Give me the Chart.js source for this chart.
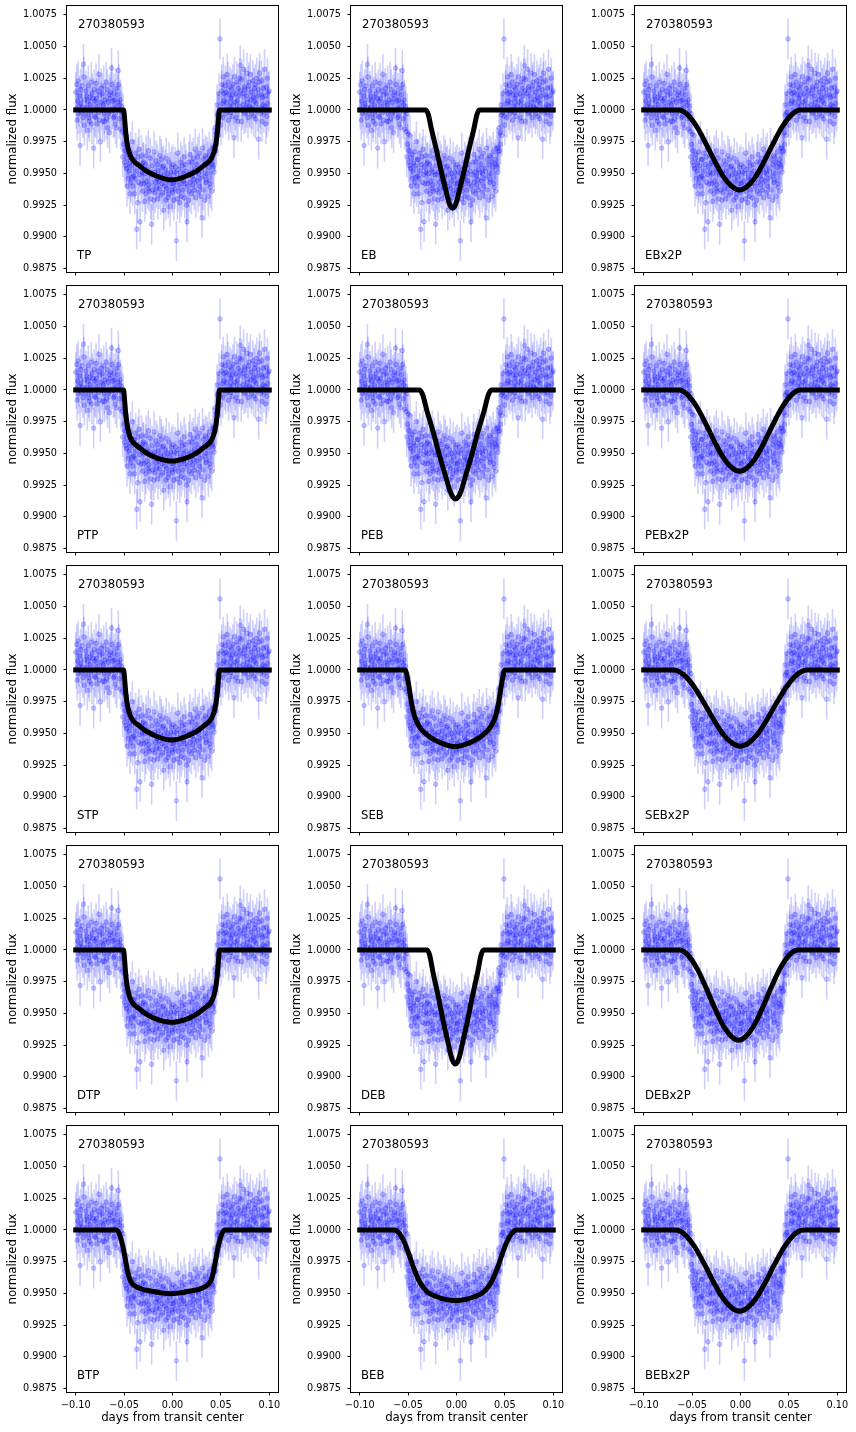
<!DOCTYPE html>
<html lang="en">
<head>
<meta charset="UTF-8">
<title>270380593 transit models</title>
<script src="https://cdn.jsdelivr.net/npm/chart.js"></script>
<style>
  body { margin: 0; background: #fff; }
  #fig { position: relative; width: 856px; height: 1432px; }
  #fig canvas { position: absolute; }
</style>
</head>
<body>
<div id="fig"></div>
<script>
const starId = '270380593';

// folded light curve (days from transit center, normalized flux)
const times = [
  -0.1,-0.0995,-0.099,-0.0985,-0.098,-0.0975,-0.097,-0.0965,-0.096,-0.0955,-0.095,-0.0945,-0.094,-0.0935,-0.093,-0.0925,-0.092,-0.0915,-0.091,-0.0905,
  -0.09,-0.0895,-0.089,-0.0885,-0.088,-0.0875,-0.087,-0.0865,-0.086,-0.0855,-0.085,-0.0845,-0.084,-0.0835,-0.083,-0.0825,-0.082,-0.0815,-0.081,-0.0805,
  -0.08,-0.0795,-0.079,-0.0785,-0.078,-0.0775,-0.077,-0.0765,-0.076,-0.0755,-0.075,-0.0745,-0.074,-0.0735,-0.073,-0.0725,-0.072,-0.0715,-0.071,-0.0705,
  -0.07,-0.0695,-0.069,-0.0685,-0.068,-0.0675,-0.067,-0.0665,-0.066,-0.0655,-0.065,-0.0645,-0.064,-0.0635,-0.063,-0.0625,-0.062,-0.0615,-0.061,-0.0605,
  -0.06,-0.0595,-0.059,-0.0585,-0.058,-0.0575,-0.057,-0.0565,-0.056,-0.0555,-0.055,-0.0545,-0.054,-0.0535,-0.053,-0.0525,-0.052,-0.0515,-0.051,-0.0505,
  -0.05,-0.0495,-0.049,-0.0485,-0.048,-0.0475,-0.047,-0.0465,-0.046,-0.0455,-0.045,-0.0445,-0.044,-0.0435,-0.043,-0.0425,-0.042,-0.0415,-0.041,-0.0405,
  -0.04,-0.0395,-0.039,-0.0385,-0.038,-0.0375,-0.037,-0.0365,-0.036,-0.0355,-0.035,-0.0345,-0.034,-0.0335,-0.033,-0.0325,-0.032,-0.0315,-0.031,-0.0305,
  -0.03,-0.0295,-0.029,-0.0285,-0.028,-0.0275,-0.027,-0.0265,-0.026,-0.0255,-0.025,-0.0245,-0.024,-0.0235,-0.023,-0.0225,-0.022,-0.0215,-0.021,-0.0205,
  -0.02,-0.0195,-0.019,-0.0185,-0.018,-0.0175,-0.017,-0.0165,-0.016,-0.0155,-0.015,-0.0145,-0.014,-0.0135,-0.013,-0.0125,-0.012,-0.0115,-0.011,-0.0105,
  -0.01,-0.0095,-0.009,-0.0085,-0.008,-0.0075,-0.007,-0.0065,-0.006,-0.0055,-0.005,-0.0045,-0.004,-0.0035,-0.003,-0.0025,-0.002,-0.0015,-0.001,-0.0005,
  0,0.0005,0.001,0.0015,0.002,0.0025,0.003,0.0035,0.004,0.0045,0.005,0.0055,0.006,0.0065,0.007,0.0075,0.008,0.0085,0.009,0.0095,
  0.01,0.0105,0.011,0.0115,0.012,0.0125,0.013,0.0135,0.014,0.0145,0.015,0.0155,0.016,0.0165,0.017,0.0175,0.018,0.0185,0.019,0.0195,
  0.02,0.0205,0.021,0.0215,0.022,0.0225,0.023,0.0235,0.024,0.0245,0.025,0.0255,0.026,0.0265,0.027,0.0275,0.028,0.0285,0.029,0.0295,
  0.03,0.0305,0.031,0.0315,0.032,0.0325,0.033,0.0335,0.034,0.0345,0.035,0.0355,0.036,0.0365,0.037,0.0375,0.038,0.0385,0.039,0.0395,
  0.04,0.0405,0.041,0.0415,0.042,0.0425,0.043,0.0435,0.044,0.0445,0.045,0.0455,0.046,0.0465,0.047,0.0475,0.048,0.0485,0.049,0.0495,
  0.05,0.0505,0.051,0.0515,0.052,0.0525,0.053,0.0535,0.054,0.0545,0.055,0.0555,0.056,0.0565,0.057,0.0575,0.058,0.0585,0.059,0.0595,
  0.06,0.0605,0.061,0.0615,0.062,0.0625,0.063,0.0635,0.064,0.0645,0.065,0.0655,0.066,0.0665,0.067,0.0675,0.068,0.0685,0.069,0.0695,
  0.07,0.0705,0.071,0.0715,0.072,0.0725,0.073,0.0735,0.074,0.0745,0.075,0.0755,0.076,0.0765,0.077,0.0775,0.078,0.0785,0.079,0.0795,
  0.08,0.0805,0.081,0.0815,0.082,0.0825,0.083,0.0835,0.084,0.0845,0.085,0.0855,0.086,0.0865,0.087,0.0875,0.088,0.0885,0.089,0.0895,
  0.09,0.0905,0.091,0.0915,0.092,0.0925,0.093,0.0935,0.094,0.0945,0.095,0.0955,0.096,0.0965,0.097,0.0975,0.098,0.0985,0.099,0.0995,0.1
];
const flux = [
  1.0014,1.0001,1.0020,0.9992,1.0007,1.0023,0.9997,1.0003,1.0011,0.9972,1.0016,1.0005,0.9998,1.0019,1.0002,0.9994,1.0036,1.0026,0.9988,1.0008,
  0.9997,1.0015,1.0002,1.0011,0.9984,1.0007,1.0019,0.9994,0.9991,1.0010,1.0004,0.9998,1.0022,0.9989,1.0013,1.0000,1.0009,0.9970,1.0016,0.9995,
  1.0007,0.9994,1.0021,1.0009,0.9989,1.0003,1.0015,0.9998,1.0028,0.9992,1.0012,0.9975,1.0006,1.0017,1.0000,1.0013,0.9991,1.0004,1.0019,0.9997,
  0.9991,1.0008,1.0000,1.0022,0.9993,1.0016,0.9986,1.0006,0.9997,1.0012,0.9982,1.0009,1.0014,0.9999,1.0033,1.0020,1.0001,1.0007,0.9994,1.0013,
  0.9995,1.0008,0.9989,1.0017,1.0002,0.9986,1.0012,1.0006,1.0031,1.0020,0.9993,1.0004,1.0008,0.9985,0.9999,1.0003,0.9983,0.9963,0.9997,0.9973,
  0.9981,0.9959,0.9968,0.9956,0.9980,0.9954,0.9940,0.9962,0.9965,0.9946,0.9952,0.9958,0.9934,0.9967,0.9943,0.9956,0.9947,0.9975,0.9940,0.9961,
  0.9948,0.9961,0.9934,0.9946,0.9966,0.9952,0.9906,0.9957,0.9927,0.9963,0.9943,0.9969,0.9949,0.9912,0.9955,0.9942,0.9964,0.9951,0.9936,0.9958,
  0.9959,0.9942,0.9950,0.9928,0.9957,0.9934,0.9964,0.9944,0.9953,0.9938,0.9968,0.9941,0.9936,0.9951,0.9962,0.9930,0.9949,0.9910,0.9956,0.9937,
  0.9949,0.9929,0.9967,0.9951,0.9935,0.9943,0.9960,0.9939,0.9946,0.9957,0.9930,0.9952,0.9944,0.9938,0.9964,0.9948,0.9933,0.9961,0.9942,0.9955,
  0.9935,0.9956,0.9921,0.9949,0.9940,0.9953,0.9929,0.9962,0.9938,0.9944,0.9950,0.9931,0.9934,0.9959,0.9947,0.9924,0.9951,0.9942,0.9955,0.9937,
  0.9935,0.9957,0.9942,0.9929,0.9951,0.9938,0.9955,0.9944,0.9897,0.9950,0.9930,0.9966,0.9936,0.9953,0.9941,0.9927,0.9947,0.9959,0.9932,0.9945,
  0.9956,0.9937,0.9950,0.9944,0.9963,0.9931,0.9942,0.9957,0.9952,0.9925,0.9912,0.9940,0.9949,0.9929,0.9959,0.9936,0.9965,0.9943,0.9951,0.9934,
  0.9959,0.9948,0.9941,0.9962,0.9945,0.9937,0.9953,0.9969,0.9931,0.9951,0.9957,0.9944,0.9963,0.9935,0.9950,0.9966,0.9940,0.9946,0.9954,0.9932,
  0.9952,0.9915,0.9970,0.9937,0.9961,0.9948,0.9957,0.9929,0.9964,0.9943,0.9945,0.9963,0.9950,0.9959,0.9932,0.9955,0.9967,0.9942,0.9939,0.9958,
  0.9961,0.9936,0.9957,0.9970,0.9955,0.9970,0.9951,0.9967,0.9986,0.9968,0.9982,0.9973,1.0004,0.9996,0.9980,0.9998,1.0013,0.9998,1.0056,0.9995,
  0.9988,1.0015,1.0020,1.0005,0.9994,1.0026,1.0007,1.0013,1.0000,1.0019,0.9997,1.0014,1.0006,1.0028,0.9999,1.0022,0.9992,1.0012,1.0003,1.0018,
  0.9998,1.0009,1.0016,0.9995,1.0012,1.0020,1.0004,0.9978,1.0026,1.0006,1.0000,1.0013,0.9994,1.0022,1.0007,0.9991,1.0017,1.0011,1.0003,1.0025,
  1.0035,1.0015,0.9991,1.0024,1.0000,1.0013,1.0004,1.0032,0.9997,1.0018,1.0016,0.9998,1.0011,1.0002,1.0029,1.0006,0.9994,1.0019,1.0022,1.0003,
  1.0002,1.0028,1.0008,0.9997,1.0014,1.0001,1.0023,1.0010,0.9995,1.0017,1.0007,1.0020,0.9993,1.0005,1.0025,1.0011,0.9999,1.0016,0.9977,1.0022,
  1.0029,1.0002,0.9997,1.0012,1.0023,0.9991,1.0010,1.0004,1.0017,0.9998,1.0032,1.0003,1.0011,0.9989,1.0018,0.9995,1.0025,1.0005,1.0014,0.9999,1.0015
];
const fluxErr = 0.0016;

// best-fit model curves, [days, flux]
const modelTP = [[-0.1,1],[-0.0505,1],[-0.0495,0.9993],[-0.048,0.998],[-0.046,0.997],[-0.044,0.9965],[-0.041,0.99605],[-0.034,0.9956],[-0.025,0.9951],[-0.0165,0.9948],[-0.008,0.99458],[-0.001,0.9945],
  [0.006,0.99458],[0.0145,0.9948],[0.023,0.9951],[0.032,0.9956],[0.039,0.99605],[0.042,0.9965],[0.044,0.997],[0.046,0.998],[0.0475,0.9993],[0.0485,1],[0.1,1]];
const modelEB = [[-0.1,1],[-0.0315,1],[-0.029,0.99961],[-0.026,0.99853],[-0.0211,0.99698],[-0.0161,0.99528],[-0.0109,0.99365],[-0.0081,0.9928],[-0.0059,0.99238],[-0.004,0.99226],
  [-0.0021,0.99238],[0.0001,0.9928],[0.0029,0.99365],[0.0081,0.99528],[0.0131,0.99698],[0.018,0.99853],[0.021,0.99961],[0.0235,1],[0.1,1]];
const modelEBx2P = [[-0.1,1],[-0.064,1],[-0.0546,0.99962],[-0.0451,0.99868],[-0.0357,0.99735],[-0.0262,0.99591],[-0.0168,0.99465],[-0.0086,0.99395],[-0.001,0.9937],
  [0.0066,0.99395],[0.0148,0.99465],[0.0242,0.99591],[0.0337,0.99735],[0.0431,0.99868],[0.0526,0.99962],[0.062,1],[0.1,1]];
const modelPTP = [[-0.1,1],[-0.0505,1],[-0.0495,0.9992],[-0.048,0.9979],[-0.046,0.9969],[-0.044,0.99635],[-0.041,0.9959],[-0.034,0.99545],[-0.025,0.99495],[-0.0165,0.99465],[-0.008,0.99447],[-0.001,0.9944],
  [0.006,0.99447],[0.0145,0.99465],[0.023,0.99495],[0.032,0.99545],[0.039,0.9959],[0.042,0.99635],[0.044,0.9969],[0.046,0.9979],[0.0475,0.9992],[0.0485,1],[0.1,1]];
const modelPEB = [[-0.1,1],[-0.038,1],[-0.0347,0.99957],[-0.0306,0.99837],[-0.0239,0.99665],[-0.0173,0.99477],[-0.0103,0.99296],[-0.0066,0.99202],[-0.0036,0.99155],[-0.001,0.99142],
  [0.0016,0.99155],[0.0046,0.99202],[0.0083,0.99296],[0.0153,0.99477],[0.0219,0.99665],[0.0286,0.99837],[0.0327,0.99957],[0.036,1],[0.1,1]];
const modelPEBx2P = [[-0.1,1],[-0.064,1],[-0.0546,0.99962],[-0.0451,0.99866],[-0.0357,0.99731],[-0.0262,0.99584],[-0.0168,0.99456],[-0.0086,0.99386],[-0.001,0.9936],
  [0.0066,0.99386],[0.0148,0.99456],[0.0242,0.99584],[0.0337,0.99731],[0.0431,0.99866],[0.0526,0.99962],[0.062,1],[0.1,1]];
const modelSTP = [[-0.1,1],[-0.0505,1],[-0.0495,0.9993],[-0.048,0.998],[-0.046,0.997],[-0.044,0.99648],[-0.041,0.99603],[-0.034,0.99558],[-0.025,0.99508],[-0.0165,0.99478],[-0.008,0.99456],[-0.001,0.99449],
  [0.006,0.99456],[0.0145,0.99478],[0.023,0.99508],[0.032,0.99558],[0.039,0.99603],[0.042,0.99648],[0.044,0.997],[0.046,0.998],[0.0475,0.9993],[0.0485,1],[0.1,1]];
const modelSEB = [[-0.1,1],[-0.053,1],[-0.051,0.9995],[-0.0485,0.9984],[-0.046,0.9972],[-0.0435,0.9964],[-0.04,0.99575],[-0.035,0.9952],[-0.028,0.99475],[-0.02,0.99438],[-0.01,0.99408],[-0.0015,0.99396],
  [0.007,0.99408],[0.017,0.99438],[0.025,0.99475],[0.032,0.9952],[0.037,0.99575],[0.0405,0.9964],[0.043,0.9972],[0.0455,0.9984],[0.048,0.9995],[0.05,1],[0.1,1]];
const modelSEBx2P = [[-0.1,1],[-0.0692,1],[-0.0589,0.99964],[-0.0485,0.99874],[-0.0382,0.99748],[-0.0278,0.9961],[-0.0175,0.9949],[-0.0085,0.99424],[-0.0002,0.994],
  [0.0081,0.99424],[0.0171,0.9949],[0.0274,0.9961],[0.0378,0.99748],[0.0481,0.99874],[0.0585,0.99964],[0.0688,1],[0.1,1]];
const modelDTP = [[-0.1,1],[-0.0505,1],[-0.0495,0.9992],[-0.048,0.9978],[-0.046,0.9968],[-0.044,0.99625],[-0.041,0.9958],[-0.034,0.99535],[-0.025,0.99485],[-0.0165,0.99455],[-0.008,0.99437],[-0.001,0.9943],
  [0.006,0.99437],[0.0145,0.99455],[0.023,0.99485],[0.032,0.99535],[0.039,0.9958],[0.042,0.99625],[0.044,0.9968],[0.046,0.9978],[0.0475,0.9992],[0.0485,1],[0.1,1]];
const modelDEB = [[-0.1,1],[-0.0302,1],[-0.0276,0.99955],[-0.0244,0.99829],[-0.0192,0.99648],[-0.014,0.9945],[-0.0085,0.99264],[-0.0056,0.99165],[-0.0032,0.99115],[-0.0012,0.99102],
  [0.0008,0.99115],[0.0032,0.99165],[0.0061,0.99264],[0.0116,0.9945],[0.0168,0.99648],[0.022,0.99829],[0.0252,0.99955],[0.0278,1],[0.1,1]];
const modelDEBx2P = [[-0.1,1],[-0.063,1],[-0.0539,0.99957],[-0.0447,0.99851],[-0.0356,0.99702],[-0.0264,0.99539],[-0.0173,0.99397],[-0.0093,0.99318],[-0.002,0.9929],
  [0.0053,0.99318],[0.0133,0.99397],[0.0224,0.99539],[0.0316,0.99702],[0.0407,0.99851],[0.0499,0.99957],[0.059,1],[0.1,1]];
const modelBTP = [[-0.1,1],[-0.0575,1],[-0.0545,0.9996],[-0.0515,0.9988],[-0.0485,0.9976],[-0.046,0.9966],[-0.0435,0.996],[-0.04,0.99565],[-0.032,0.99535],[-0.023,0.9952],[-0.012,0.99505],[-0.002,0.99498],
  [0.008,0.99505],[0.019,0.9952],[0.028,0.99535],[0.036,0.99565],[0.0395,0.996],[0.042,0.9966],[0.0445,0.9976],[0.0475,0.9988],[0.0505,0.9996],[0.0535,1],[0.1,1]];
const modelBEB = [[-0.1,1],[-0.064,1],[-0.059,0.99972],[-0.054,0.99906],[-0.049,0.99806],[-0.044,0.99695],[-0.039,0.99606],[-0.034,0.99545],[-0.029,0.99506],[-0.021,0.99476],[-0.011,0.99453],[-0.001,0.99445],
  [0.009,0.99453],[0.019,0.99476],[0.027,0.99506],[0.032,0.99545],[0.037,0.99606],[0.042,0.99695],[0.047,0.99806],[0.052,0.99906],[0.057,0.99972],[0.062,1],[0.1,1]];
const modelBEBx2P = [[-0.1,1],[-0.067,1],[-0.0571,0.99962],[-0.0472,0.99866],[-0.0373,0.99731],[-0.0274,0.99584],[-0.0175,0.99456],[-0.0089,0.99386],[-0.001,0.9936],
  [0.0069,0.99386],[0.0155,0.99456],[0.0254,0.99584],[0.0353,0.99731],[0.0452,0.99866],[0.0551,0.99962],[0.065,1],[0.1,1]];

const panelNames = ['TP','EB','EBx2P','PTP','PEB','PEBx2P','STP','SEB','SEBx2P','DTP','DEB','DEBx2P','BTP','BEB','BEBx2P'];
const panelModels = [modelTP, modelEB, modelEBx2P, modelPTP, modelPEB, modelPEBx2P, modelSTP, modelSEB, modelSEBx2P,
  modelDTP, modelDEB, modelDEBx2P, modelBTP, modelBEB, modelBEBx2P];

const xTicks = [-0.1, -0.05, 0, 0.05, 0.1];
const xTickLabels = ['\u22120.10', '\u22120.05', '0.00', '0.05', '0.10'];
const yTicks = [0.9875, 0.99, 0.9925, 0.995, 0.9975, 1, 1.0025, 1.005, 1.0075];
const yTickLabels = ['0.9875', '0.9900', '0.9925', '0.9950', '0.9975', '1.0000', '1.0025', '1.0050', '1.0075'];

Chart.defaults.font.family = "'DejaVu Sans', sans-serif";

const points = times.map((t, i) => ({ x: t, y: flux[i] }));

// vertical error bars under the markers
const errorBars = {
  id: 'errorBars',
  beforeDatasetsDraw(chart) {
    const { ctx, chartArea: a, scales: { x, y } } = chart;
    ctx.save();
    ctx.beginPath();
    ctx.rect(a.left, a.top, a.width, a.height);
    ctx.clip();
    ctx.strokeStyle = 'rgba(0,0,255,0.19)';
    ctx.lineWidth = 1.6;
    times.forEach((t, i) => {
      const px = x.getPixelForValue(t);
      ctx.beginPath();
      ctx.moveTo(px, y.getPixelForValue(flux[i] - fluxErr));
      ctx.lineTo(px, y.getPixelForValue(flux[i] + fluxErr));
      ctx.stroke();
    });
    ctx.restore();
  }
};

// star id, model name and the box round each panel
const panelText = {
  id: 'panelText',
  afterDatasetsDraw(chart, args, opts) {
    const { ctx, chartArea: a } = chart;
    ctx.save();
    ctx.fillStyle = '#000';
    ctx.font = "11.7px 'DejaVu Sans'";
    ctx.textAlign = 'left';
    ctx.textBaseline = 'alphabetic';
    ctx.fillText(starId, a.left + 11, a.top + 22);
    ctx.fillText(opts.name, a.left + 10, a.bottom - 13);
    ctx.strokeStyle = '#000';
    ctx.lineWidth = 1;
    ctx.strokeRect(a.left - 0.5, a.top - 0.5, a.width + 1, a.height + 1);
    ctx.restore();
  }
};

const fig = document.getElementById('fig');

panelNames.forEach((name, idx) => {
  const row = Math.floor(idx / 3), col = idx % 3;
  const last = row === 4;
  const w = 286, h = last ? 313 : 280;
  const canvas = document.createElement('canvas');
  canvas.width = w;
  canvas.height = h;
  canvas.style.left = (col * 284) + 'px';
  canvas.style.top = (row * 280) + 'px';
  canvas.style.width = w + 'px';
  canvas.style.height = h + 'px';
  fig.appendChild(canvas);

  const tickGrid = { drawOnChartArea: false, drawTicks: true, tickLength: 3.5, color: '#000', tickColor: '#000', lineWidth: 1 };

  new Chart(canvas, {
    type: 'scatter',
    data: {
      datasets: [
        {
          type: 'line',
          data: panelModels[idx].map(p => ({ x: p[0], y: p[1] })),
          borderColor: '#000',
          borderWidth: 5,
          borderCapStyle: 'square',
          borderJoinStyle: 'round',
          pointRadius: 0,
          fill: false,
          cubicInterpolationMode: 'monotone',
          order: 0
        },
        {
          data: points,
          pointRadius: 2.3,
          pointBackgroundColor: 'rgba(0,0,255,0.2)',
          pointBorderColor: 'rgba(0,0,255,0.25)',
          pointBorderWidth: 0.8,
          order: 1
        }
      ]
    },
    options: {
      responsive: false,
      animation: false,
      events: [],
      layout: { padding: { top: 6, right: 8, left: 0, bottom: 0 } },
      plugins: {
        legend: { display: false },
        tooltip: { enabled: false },
        panelText: { name: name }
      },
      scales: {
        x: {
          type: 'linear',
          min: -0.109,
          max: 0.109,
          afterBuildTicks: s => { s.ticks = xTicks.map(v => ({ value: v })); },
          afterFit: s => {
            s.height = last ? 41 : 8;
            s.paddingLeft = 0;
            s.paddingRight = 0;
          },
          ticks: {
            autoSkip: false,
            maxRotation: 0,
            padding: 4,
            color: last ? '#000' : 'rgba(0,0,0,0)',
            font: { size: 9.7 },
            callback: (v, i) => xTickLabels[i]
          },
          grid: tickGrid,
          border: { display: false },
          title: {
            display: last,
            text: 'days from transit center',
            color: '#000',
            font: { size: 11.8 },
            padding: { top: 0, bottom: 8 }
          }
        },
        y: {
          type: 'linear',
          min: 0.98724,
          max: 1.00819,
          afterBuildTicks: s => { s.ticks = yTicks.map(v => ({ value: v })); },
          afterFit: s => {
            s.width = 67;
            s.paddingTop = 0;
            s.paddingBottom = 0;
          },
          ticks: {
            autoSkip: false,
            padding: 6.5,
            color: '#000',
            font: { size: 9.7 },
            callback: (v, i) => yTickLabels[i]
          },
          grid: tickGrid,
          border: { display: false },
          title: {
            display: true,
            text: 'normalized flux',
            color: '#000',
            font: { size: 11.8 },
            padding: { top: 6, bottom: 0 }
          }
        }
      }
    },
    plugins: [errorBars, panelText]
  });
});
</script>
</body>
</html>
